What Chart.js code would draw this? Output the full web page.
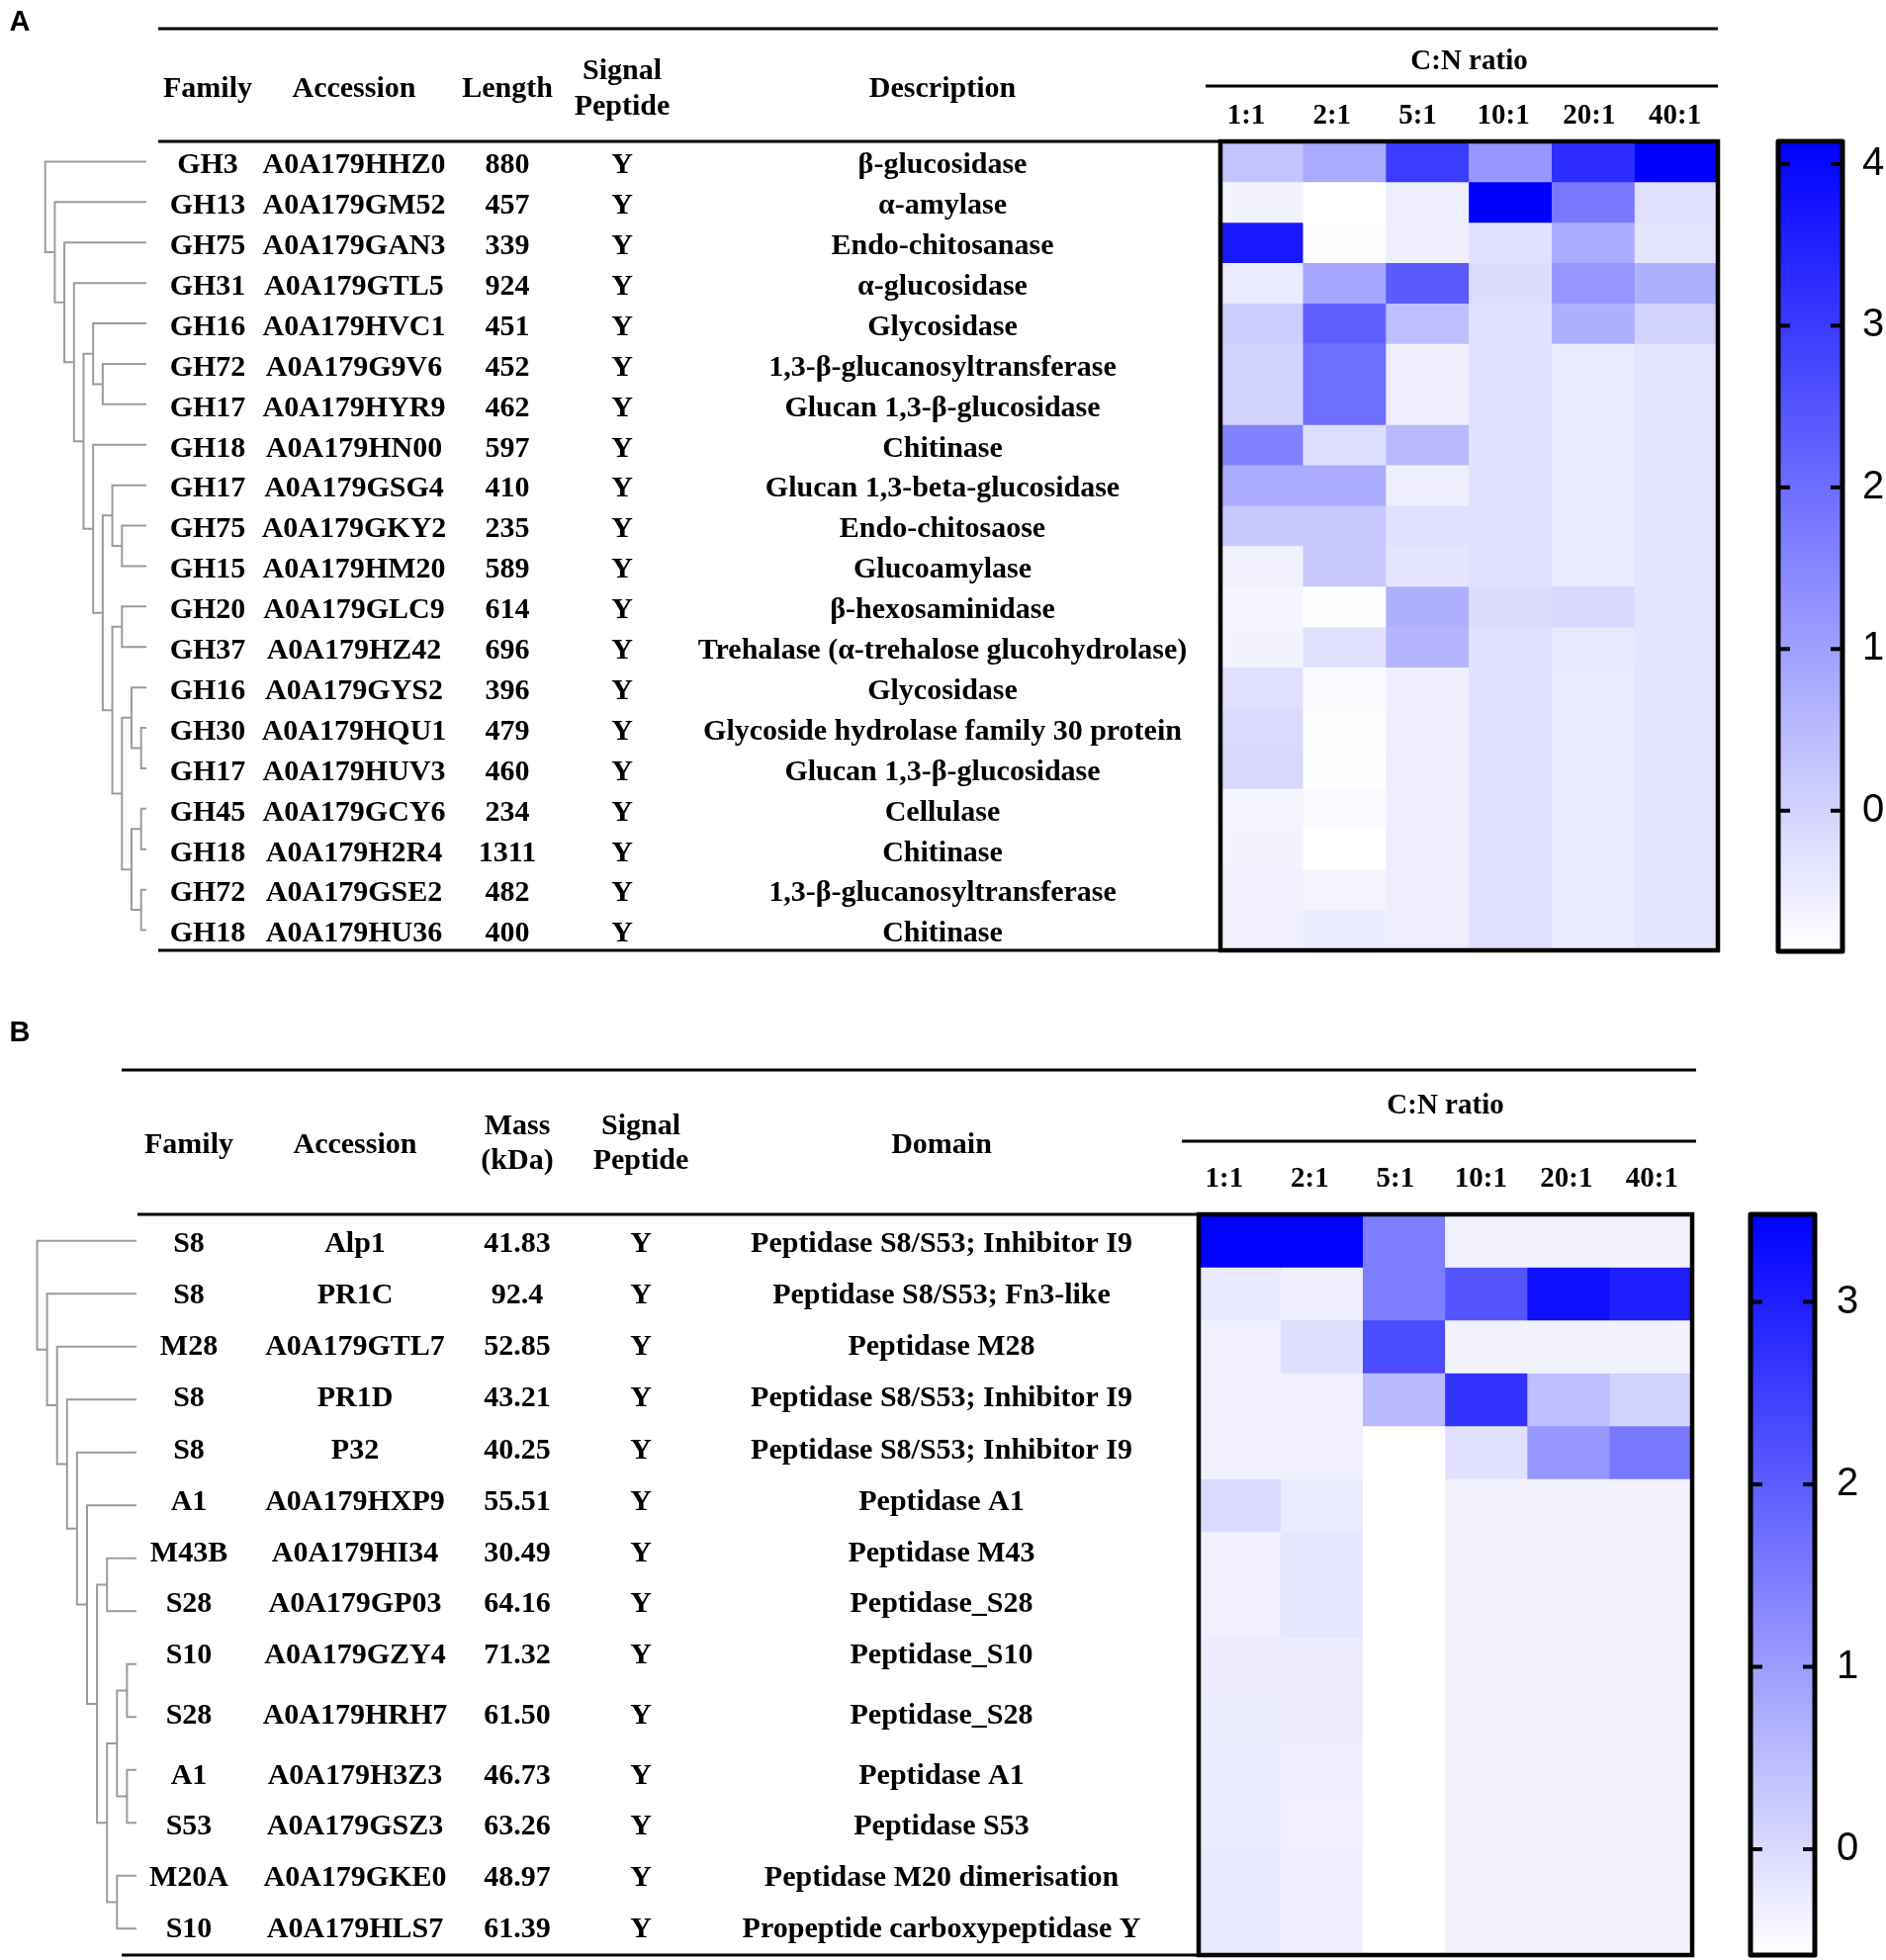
<!DOCTYPE html>
<html>
<head>
<meta charset="utf-8">
<title>C:N ratio heatmaps</title>
<script src="https://cdn.jsdelivr.net/npm/chart.js@4/dist/chart.umd.min.js"></script>
<style>
body { margin: 0; background: #fff; }
#page { position: relative; width: 1907px; height: 1982px; }
#page canvas { position: absolute; }
</style>
</head>
<body>
<div id="page">
	<canvas id="heatA"></canvas>
	<canvas id="treeA"></canvas>
	<canvas id="barA"></canvas>
	<canvas id="heatB"></canvas>
	<canvas id="treeB"></canvas>
	<canvas id="barB"></canvas>
</div>

<script>
const RATIOS = ['1:1', '2:1', '5:1', '10:1', '20:1', '40:1'];

// panel A: glycoside hydrolases
const A_HEADERS = ['Family', 'Accession', 'Length', ['Signal', 'Peptide'], 'Description'];
const A_FAMILY = ['GH3', 'GH13', 'GH75', 'GH31', 'GH16', 'GH72', 'GH17', 'GH18', 'GH17', 'GH75',
	'GH15', 'GH20', 'GH37', 'GH16', 'GH30', 'GH17', 'GH45', 'GH18', 'GH72', 'GH18'];
const A_ACCESSION = ['A0A179HHZ0', 'A0A179GM52', 'A0A179GAN3', 'A0A179GTL5', 'A0A179HVC1',
	'A0A179G9V6', 'A0A179HYR9', 'A0A179HN00', 'A0A179GSG4', 'A0A179GKY2', 'A0A179HM20',
	'A0A179GLC9', 'A0A179HZ42', 'A0A179GYS2', 'A0A179HQU1', 'A0A179HUV3', 'A0A179GCY6',
	'A0A179H2R4', 'A0A179GSE2', 'A0A179HU36'];
const A_LENGTH = ['880', '457', '339', '924', '451', '452', '462', '597', '410', '235',
	'589', '614', '696', '396', '479', '460', '234', '1311', '482', '400'];
const A_SIGNAL = A_FAMILY.map(() => 'Y');
const A_DESCRIPTION = ['β-glucosidase', 'α-amylase', 'Endo-chitosanase', 'α-glucosidase',
	'Glycosidase', '1,3-β-glucanosyltransferase', 'Glucan 1,3-β-glucosidase', 'Chitinase',
	'Glucan 1,3-beta-glucosidase', 'Endo-chitosaose', 'Glucoamylase', 'β-hexosaminidase',
	'Trehalase (α-trehalose glucohydrolase)', 'Glycosidase', 'Glycoside hydrolase family 30 protein',
	'Glucan 1,3-β-glucosidase', 'Cellulase', 'Chitinase', '1,3-β-glucanosyltransferase', 'Chitinase'];
// rows x RATIOS
const A_HEAT = [
	[0.31, 0.80, 2.96, 1.19, 3.26, 4.14],
	[-0.63, -0.87, -0.54, 4.14, 1.78, -0.28],
	[3.65, -0.81, -0.54, -0.28, 0.80, -0.34],
	[-0.48, 0.90, 2.37, -0.18, 1.19, 0.70],
	[0.11, 2.27, 0.41, -0.28, 0.70, 0.01],
	[0.01, 1.98, -0.54, -0.28, -0.48, -0.34],
	[0.01, 1.98, -0.54, -0.28, -0.48, -0.34],
	[1.59, -0.22, 0.51, -0.28, -0.48, -0.34],
	[0.80, 0.80, -0.54, -0.28, -0.48, -0.34],
	[0.21, 0.21, -0.28, -0.28, -0.48, -0.34],
	[-0.58, 0.21, -0.34, -0.28, -0.48, -0.34],
	[-0.67, -0.83, 0.70, -0.18, -0.08, -0.34],
	[-0.63, -0.28, 0.60, -0.28, -0.42, -0.34],
	[-0.28, -0.79, -0.54, -0.28, -0.48, -0.34],
	[-0.14, -0.81, -0.54, -0.28, -0.48, -0.34],
	[-0.08, -0.85, -0.54, -0.28, -0.48, -0.34],
	[-0.67, -0.77, -0.54, -0.28, -0.48, -0.34],
	[-0.63, -0.87, -0.54, -0.28, -0.48, -0.34],
	[-0.58, -0.67, -0.54, -0.28, -0.48, -0.34],
	[-0.58, -0.48, -0.54, -0.28, -0.48, -0.34]
];
const A_RANGE = [-0.87, 4.14];
const A_TICKS = [0, 1, 2, 3, 4];
// clustering, nested pairs of row indices
const A_TREE = [0, [1, [2, [3, [[4, [5, 6]], [7, [[8, [9, 10]], [[11, 12], [[13, [14, 15]], [[16, 17], [18, 19]]]]]]]]]]];

// panel B: proteases
const B_HEADERS = ['Family', 'Accession', ['Mass', '(kDa)'], ['Signal', 'Peptide'], 'Domain'];
const B_FAMILY = ['S8', 'S8', 'M28', 'S8', 'S8', 'A1', 'M43B', 'S28', 'S10', 'S28', 'A1', 'S53', 'M20A', 'S10'];
const B_ACCESSION = ['Alp1', 'PR1C', 'A0A179GTL7', 'PR1D', 'P32', 'A0A179HXP9', 'A0A179HI34',
	'A0A179GP03', 'A0A179GZY4', 'A0A179HRH7', 'A0A179H3Z3', 'A0A179GSZ3', 'A0A179GKE0', 'A0A179HLS7'];
const B_MASS = ['41.83', '92.4', '52.85', '43.21', '40.25', '55.51', '30.49', '64.16', '71.32',
	'61.50', '46.73', '63.26', '48.97', '61.39'];
const B_SIGNAL = B_FAMILY.map(() => 'Y');
const B_DOMAIN = ['Peptidase S8/S53; Inhibitor I9', 'Peptidase S8/S53; Fn3-like', 'Peptidase M28',
	'Peptidase S8/S53; Inhibitor I9', 'Peptidase S8/S53; Inhibitor I9', 'Peptidase A1', 'Peptidase M43',
	'Peptidase_S28', 'Peptidase_S10', 'Peptidase_S28', 'Peptidase A1', 'Peptidase S53',
	'Peptidase M20 dimerisation', 'Propeptide carboxypeptidase Y'];
const B_HEAT = [
	[3.47, 3.47, 1.49, -0.37, -0.37, -0.37],
	[-0.21, -0.31, 1.49, 2.13, 3.24, 3.00],
	[-0.34, -0.05, 2.29, -0.37, -0.37, -0.37],
	[-0.34, -0.34, 0.53, 2.68, 0.45, 0.14],
	[-0.34, -0.34, -0.58, -0.10, 1.09, 1.57],
	[0.01, -0.26, -0.58, -0.37, -0.37, -0.37],
	[-0.34, -0.18, -0.58, -0.37, -0.37, -0.37],
	[-0.34, -0.18, -0.58, -0.37, -0.37, -0.37],
	[-0.29, -0.29, -0.58, -0.37, -0.37, -0.37],
	[-0.28, -0.29, -0.58, -0.37, -0.37, -0.37],
	[-0.26, -0.31, -0.58, -0.37, -0.37, -0.37],
	[-0.26, -0.34, -0.58, -0.37, -0.37, -0.37],
	[-0.23, -0.31, -0.58, -0.37, -0.37, -0.37],
	[-0.21, -0.31, -0.58, -0.37, -0.37, -0.37]
];
const B_RANGE = [-0.58, 3.48];
const B_TICKS = [0, 1, 2, 3];
const B_TREE = [0, [1, [2, [3, [4, [5, [[6, 7], [[[8, 9], [10, 11]], [12, 13]]]]]]]]];

const SERIF = '"Liberation Serif", "Times New Roman", serif';
const SANS = '"Liberation Sans", Arial, sans-serif';

// page positions, in px (y relative to the panel canvas)
const LAYOUT_A = {
	top: 0, height: 1000,
	box: { left: 1234, right: 1737, top: 143, bottom: 961 },
	ruleY: 29, ruleLeft: 160, ruleRight: 1737,
	headLeft: 160, footLeft: 160,
	subY: 87, subLeft: 1219,
	headY: 90, head2: [72, 108],
	textShift: A_FAMILY.map(() => 4),
	cols: [210, 358, 513, 629, 953],
	letter: [20, 23],
	titlePad: 16, tickPad: 8, labelSpan: [-0.3, 5.5],
	tree: { left: 45.7, right: 148, depth: 10.55 },
	bar: { left: 1798, right: 1863, top: 143, bottom: 962, labelPad: 20 }
};
const LAYOUT_B = {
	top: 1000, height: 982,
	box: { left: 1212, right: 1711, top: 228, bottom: 977 },
	ruleY: 82, ruleLeft: 123, ruleRight: 1715,
	headLeft: 139, footLeft: 123,
	subY: 154, subLeft: 1195,
	headY: 158, head2: [139, 174],
	textShift: [3, 1.5, 0, -1.5, -2, -3.5, -5, -7, -8.5, -1.5, 6, 4, 2.5, 1],
	cols: [191, 359, 523, 648, 952],
	letter: [20, 45],
	titlePad: 19.6, tickPad: 17.6, labelSpan: [-0.3, 5.47],
	tree: { left: 37.5, right: 138, depth: 9.95 },
	bar: { left: 1770, right: 1835, top: 228, bottom: 977, labelPad: 22 }
};

const PANEL_A = { letter: 'A', headers: A_HEADERS, columns: [A_FAMILY, A_ACCESSION, A_LENGTH, A_SIGNAL, A_DESCRIPTION],
	heat: A_HEAT, range: A_RANGE, ticks: A_TICKS, tree: A_TREE, layout: LAYOUT_A };
const PANEL_B = { letter: 'B', headers: B_HEADERS, columns: [B_FAMILY, B_ACCESSION, B_MASS, B_SIGNAL, B_DOMAIN],
	heat: B_HEAT, range: B_RANGE, ticks: B_TICKS, tree: B_TREE, layout: LAYOUT_B };

function heatColor(v, range) {
	const t = Math.max(0, Math.min(1, (v - range[0]) / (range[1] - range[0])));
	const c = Math.round(255 * (1 - t));
	return 'rgb(' + c + ',' + c + ',255)';
}

function place(id, left, top, w, h) {
	const c = document.getElementById(id);
	c.width = w;
	c.height = h;
	c.style.left = left + 'px';
	c.style.top = top + 'px';
	c.style.width = w + 'px';
	c.style.height = h + 'px';
	return c;
}

function hline(ctx, x1, x2, y) {
	ctx.beginPath();
	ctx.moveTo(x1, y);
	ctx.lineTo(x2, y);
	ctx.stroke();
}

function tablePlugin(P) {
	const L = P.layout;
	return {
		id: 'table',
		afterDraw(chart) {
			const ctx = chart.ctx, a = chart.chartArea, y = chart.scales.y;
			ctx.save();
			ctx.strokeStyle = '#000';
			ctx.lineWidth = 4.5;
			ctx.strokeRect(a.left, a.top, a.right - a.left, a.bottom - a.top);
			ctx.lineWidth = 3;
			hline(ctx, L.ruleLeft, L.ruleRight, L.ruleY);
			hline(ctx, L.headLeft, a.left, a.top);
			hline(ctx, L.footLeft, a.left, a.bottom);
			hline(ctx, L.subLeft, L.ruleRight, L.subY);

			ctx.fillStyle = '#000';
			ctx.textAlign = 'center';
			ctx.textBaseline = 'middle';
			ctx.font = 'bold 30px ' + SERIF;
			P.headers.forEach((h, k) => {
				if (Array.isArray(h)) {
					h.forEach((t, j) => ctx.fillText(t, L.cols[k], L.head2[j]));
				} else {
					ctx.fillText(h, L.cols[k], L.headY);
				}
			});
			P.columns.forEach((col, k) => {
				col.forEach((t, i) => ctx.fillText(t, L.cols[k], y.getPixelForValue(i + 0.5) + L.textShift[i]));
			});
			ctx.font = 'bold 29px ' + SANS;
			ctx.fillText(P.letter, L.letter[0], L.letter[1]);
			ctx.restore();
		}
	};
}

function drawHeat(id, P) {
	const L = P.layout;
	const canvas = place(id, 0, L.top, 1907, L.height);
	const serif = { family: SERIF, weight: 'bold', size: 29 };
	new Chart(canvas, {
		type: 'bar',
		data: {
			labels: RATIOS,
			datasets: P.heat.map((row, i) => ({
				label: P.columns[1][i],
				data: row.map(() => 1),
				backgroundColor: row.map(v => heatColor(v, P.range)),
				borderWidth: 0,
				barPercentage: 1,
				categoryPercentage: 1
			}))
		},
		options: {
			responsive: false,
			animation: false,
			events: [],
			layout: { padding: { left: L.box.left, right: 1907 - L.box.right, top: L.ruleY, bottom: L.height - L.box.bottom } },
			plugins: { legend: { display: false }, tooltip: { enabled: false } },
			scales: {
				x: { display: false, stacked: true },
				// ratio labels sit on their own, slightly wider spaced axis
				xLabels: {
					type: 'linear',
					position: 'top',
					offset: false,
					min: L.labelSpan[0],
					max: L.labelSpan[1],
					grid: { display: false, drawTicks: false, offset: false },
					border: { display: false },
					afterBuildTicks: s => { s.ticks = RATIOS.map((r, i) => ({ value: i })); },
					ticks: { color: '#000', font: serif, padding: L.tickPad, maxRotation: 0, autoSkip: false,
						callback: v => RATIOS[v] },
					title: { display: true, text: 'C:N ratio', color: '#000', font: serif, padding: { top: L.titlePad, bottom: 0 } },
					afterFit: s => { s.height = L.box.top - L.ruleY; }
				},
				y: { display: false, stacked: true, reverse: true, min: 0, max: P.heat.length }
			}
		},
		plugins: [tablePlugin(P)]
	});
}

function drawTree(id, P) {
	const L = P.layout, T = L.tree;
	const canvas = place(id, 0, L.top, 200, L.height);
	const paths = [];
	function walk(node, d) {
		if (!Array.isArray(node)) return { x: T.depth, y: node + 0.5 };
		const a = walk(node[0], d + 1), b = walk(node[1], d + 1);
		paths.push([{ x: a.x, y: a.y }, { x: d, y: a.y }, { x: d, y: b.y }, { x: b.x, y: b.y }]);
		return { x: d, y: (a.y + b.y) / 2 };
	}
	walk(P.tree, 0);
	new Chart(canvas, {
		type: 'scatter',
		data: {
			datasets: paths.map(p => ({
				data: p,
				showLine: true,
				borderColor: '#9b9b9b',
				borderWidth: 2,
				pointRadius: 0,
				clip: false
			}))
		},
		options: {
			responsive: false,
			animation: false,
			events: [],
			layout: { padding: { left: T.left, right: 200 - T.right, top: L.box.top, bottom: L.height - L.box.bottom } },
			plugins: { legend: { display: false }, tooltip: { enabled: false } },
			scales: {
				x: { type: 'linear', display: false, min: 0, max: T.depth },
				y: { type: 'linear', display: false, reverse: true, min: 0, max: P.heat.length }
			}
		}
	});
}

const colorbarPlugin = {
	id: 'colorbar',
	afterDatasetsDraw(chart) {
		const ctx = chart.ctx, a = chart.chartArea, y = chart.scales.y;
		ctx.save();
		ctx.strokeStyle = '#000';
		ctx.lineWidth = 4;
		y.ticks.forEach(t => {
			const p = y.getPixelForValue(t.value);
			hline(ctx, a.left, a.left + 12, p);
			hline(ctx, a.right - 12, a.right, p);
		});
		ctx.lineWidth = 5;
		ctx.lineJoin = 'round';
		ctx.strokeRect(a.left, a.top, a.right - a.left, a.bottom - a.top);
		ctx.restore();
	}
};

function drawColorbar(id, P) {
	const L = P.layout, B = L.bar;
	const left = B.left - 30;
	const canvas = place(id, left, L.top, 1907 - left, L.height);
	new Chart(canvas, {
		type: 'bar',
		data: {
			labels: [''],
			datasets: [{
				data: [P.range],
				backgroundColor: c => {
					const chart = c.chart, y = chart.scales.y;
					const lo = y ? y.getPixelForValue(P.range[0]) : NaN;
					const hi = y ? y.getPixelForValue(P.range[1]) : NaN;
					if (!chart.chartArea || !isFinite(lo) || !isFinite(hi)) return heatColor(P.range[1], P.range);
					const g = chart.ctx.createLinearGradient(0, lo, 0, hi);
					g.addColorStop(0, heatColor(P.range[0], P.range));
					g.addColorStop(1, heatColor(P.range[1], P.range));
					return g;
				},
				borderWidth: 0,
				barPercentage: 1,
				categoryPercentage: 1
			}]
		},
		options: {
			responsive: false,
			animation: false,
			events: [],
			layout: { padding: { left: B.left - left, right: 0, top: B.top, bottom: L.height - B.bottom } },
			plugins: { legend: { display: false }, tooltip: { enabled: false } },
			scales: {
				x: { display: false },
				y: {
					position: 'right',
					min: P.range[0],
					max: P.range[1],
					grid: { display: false, drawTicks: false },
					border: { display: false },
					ticks: { color: '#000', font: { family: SANS, size: 40 }, padding: B.labelPad },
					afterBuildTicks: s => { s.ticks = P.ticks.map(v => ({ value: v })); },
					afterFit: s => {
						s.width = 1907 - B.right;
						s.paddingTop = 0;
						s.paddingBottom = 0;
					}
				}
			}
		},
		plugins: [colorbarPlugin]
	});
}

drawHeat('heatA', PANEL_A);
drawTree('treeA', PANEL_A);
drawColorbar('barA', PANEL_A);
drawHeat('heatB', PANEL_B);
drawTree('treeB', PANEL_B);
drawColorbar('barB', PANEL_B);
</script>
</body>
</html>
